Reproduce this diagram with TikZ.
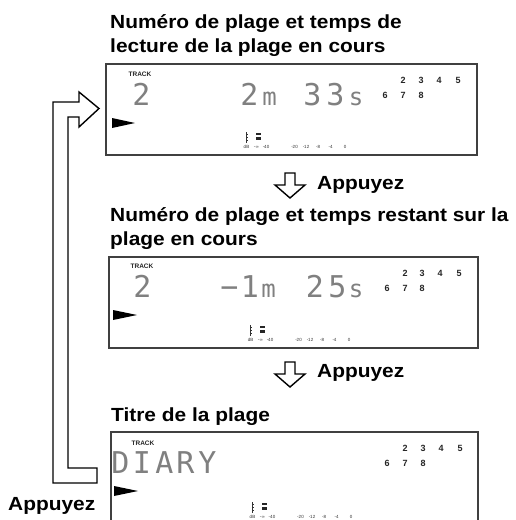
\documentclass[tikz,border=0pt]{standalone}
\usepackage{fontspec}
\setmainfont{Liberation Sans}
\newfontfamily\ttl[FakeStretch=1.1]{Liberation Sans}
\newfontfamily\lcd{DejaVu Sans Mono}
\newfontfamily\dv{DejaVu Sans}
\tikzset{
  lcdbox/.style={draw=black!75, line width=1.3pt, inner sep=0pt, outer sep=0pt},
  hollow/.style={draw=black, line width=1.4pt, line join=miter, fill=white},
  title/.style={anchor=base west, inner sep=0pt, font=\ttl\bfseries\fontsize{19}{24}\selectfont},
  digit/.style={anchor=base, inner sep=0pt, text=black!50, font=\lcd\fontsize{30}{30}\selectfont},
  unit/.style={anchor=base, inner sep=0pt, text=black!50, font=\lcd\fontsize{24}{24}\selectfont},
  track/.style={anchor=center, inner sep=0pt, text=black!85, font=\bfseries\fontsize{6.5}{7}\selectfont},
  num/.style={anchor=center, inner sep=0pt, text=black!85, font=\bfseries\fontsize{9}{9}\selectfont},
  playtri/.style={fill=black},
  mlab/.style={anchor=center, inner sep=0pt, text=black!80, font=\fontsize{4.5}{5}\selectfont},
  meter/.pic={
    \draw[black!80, line width=0.6pt] (2,-15) -- (2,-4);
    \foreach \yy in {-13,-10,-7} \draw[black!80, line width=0.7pt] (2,\yy) -- (4,\yy);
    \fill[black!85] (12,-14.5) rectangle (17,-12);
    \fill[black!85] (12,-10.5) rectangle (17,-7.5);
    \foreach \xx/\tt [count=\i] in {2.5/dB, 12.5/{-{\dv ∞}}, 22/-40, 50.5/-20, 62/-12, 74/-8, 86.5/-4, 101/0}
      \node[mlab] (-l\i) at (\xx,0) {\tt};
  }
}
\begin{document}
\begin{tikzpicture}[x=1pt,y=-1pt]
\useasboundingbox (0,0) rectangle (515,520);
\clip (0,0) rectangle (515,520);
\fill[white] (0,0) rectangle (515,520);

% titles
\node[title] (t1a) at (110,28) {Numéro de plage et temps de};
\node[title] (t1b) at (110,52) {lecture de la plage en cours};
\node[title] (t2a) at (110,221) {Numéro de plage et temps restant sur la};
\node[title] (t2b) at (110,245) {plage en cours};
\node[title] (t3) at (111,421) {Titre de la plage};

% boxes
\node[lcdbox, anchor=north west, minimum width=371pt, minimum height=91pt] (b1) at (106,64) {};
\node[lcdbox, anchor=north west, minimum width=369pt, minimum height=91pt] (b2) at (109,257) {};
\node[lcdbox, anchor=north west, minimum width=367pt, minimum height=91pt] (b3) at (111,432) {};

% box 1 content
\node[track] (tr1) at (140,74) {TRACK};
\node[digit] (n1) at (141.5,105) {2};
\node[digit] (m1a) at (249.5,105) {2};
\node[unit] (m1b) at (269.5,105) {m};
\node[digit] (s1a) at (312.5,105) {3};
\node[digit] (s1b) at (335.5,105) {3};
\node[unit] (s1c) at (356,105) {s};
\foreach \xx/\t [count=\i] in {403/2,421/3,439/4,458/5} \node[num] (ka\i) at (\xx,80) {\t};
\foreach \xx/\t [count=\i] in {385/6,403/7,421/8} \node[num] (kb\i) at (\xx,95) {\t};
\fill[playtri] (112,118) -- (135,123) -- (112,128) -- cycle;
\pic (mt1) at (244,147) {meter};

% box 2 content
\node[track] (tr2) at (142,266) {TRACK};
\node[digit] (n2) at (142.5,297) {2};
\node[digit] (r2a) at (229.5,297) {−};
\node[digit] (r2b) at (250,297) {1};
\node[unit] (r2c) at (268.5,297) {m};
\node[digit] (r2d) at (315,297) {2};
\node[digit] (r2e) at (337.5,297) {5};
\node[unit] (r2f) at (356,297) {s};
\foreach \xx/\t [count=\i] in {405/2,422/3,440/4,459/5} \node[num] (la\i) at (\xx,273) {\t};
\foreach \xx/\t [count=\i] in {387/6,405/7,422/8} \node[num] (lb\i) at (\xx,288) {\t};
\fill[playtri] (113,310) -- (137,315) -- (113,320) -- cycle;
\pic (mt2) at (248,340) {meter};

% box 3 content
\node[track] (tr3) at (143,443) {TRACK};
\foreach \xx/\t [count=\i] in {120.5/D,142/I,164.5/A,185.5/R,207.5/Y} \node[digit] (d\i) at (\xx,473) {\t};
\foreach \xx/\t [count=\i] in {405/2,423/3,441/4,460/5} \node[num] (ja\i) at (\xx,448) {\t};
\foreach \xx/\t [count=\i] in {387/6,405/7,423/8} \node[num] (jb\i) at (\xx,463) {\t};
\fill[playtri] (114,486) -- (138,491) -- (114,496) -- cycle;
\pic (mt3) at (250,517) {meter};

% press arrows
\draw[hollow] (285,173) -- (295,173) -- (295,185) -- (305,185) -- (290,198) -- (275,185) -- (285,185) -- cycle;
\node[title] (p1) at (317,189) {Appuyez};
\draw[hollow] (285,362) -- (295,362) -- (295,374) -- (305,374) -- (290,387) -- (275,374) -- (285,374) -- cycle;
\node[title] (p2) at (317,377) {Appuyez};

% return arrow
\draw[hollow] (97,468) -- (68,468) -- (68,117) -- (79,117) -- (79,127) -- (99,108.5) -- (79,92) -- (79,102) -- (53,102) -- (53,483) -- (97,483) -- cycle;
\node[title] (p3) at (8,510) {Appuyez};
\end{tikzpicture}
\end{document}
